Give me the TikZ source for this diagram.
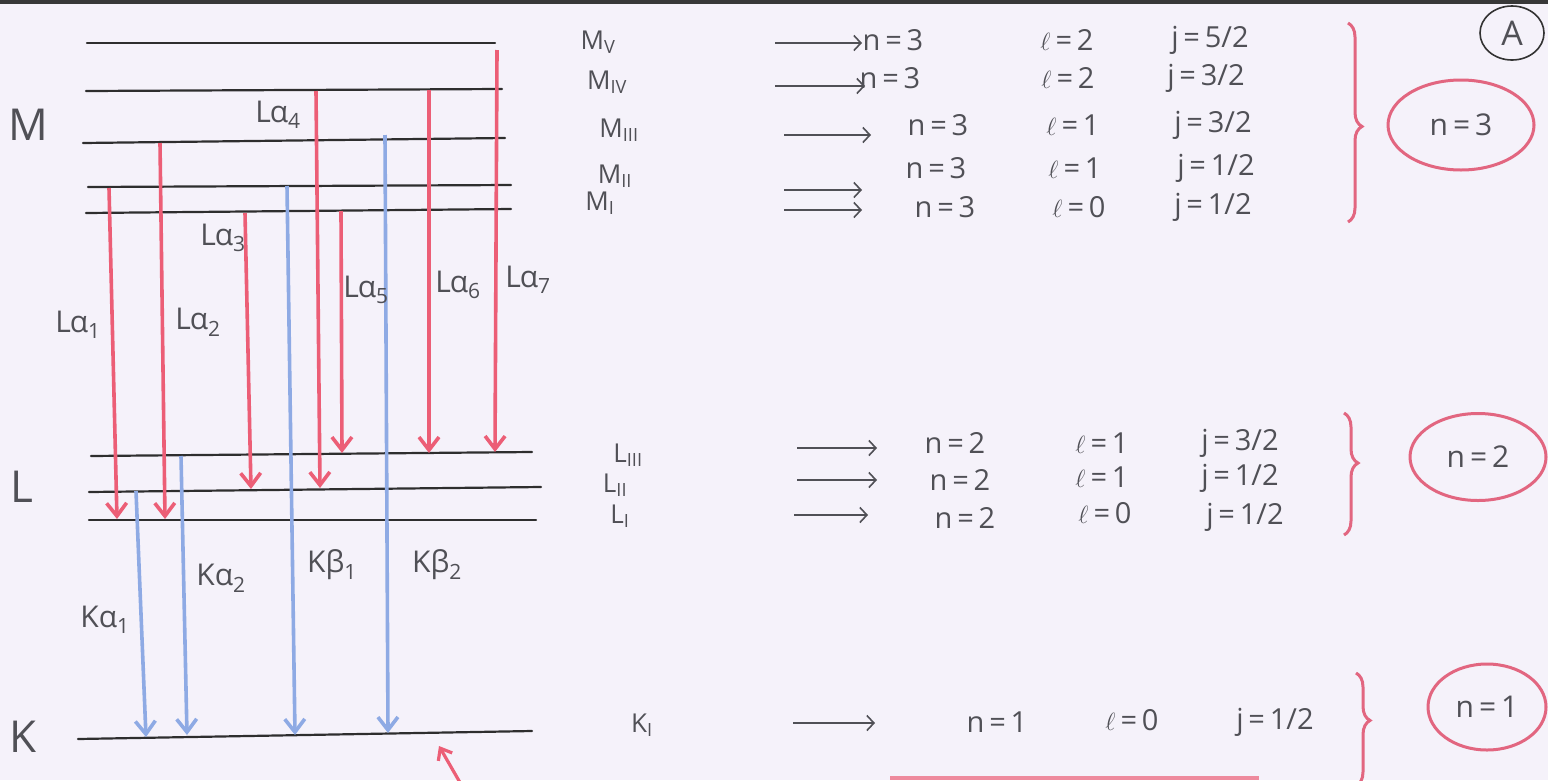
\documentclass[tikz,border=0pt]{standalone}
\usepackage{fontspec}
\setmainfont{Open Sans}
\usetikzlibrary{arrows.meta,shapes.geometric,decorations.pathreplacing}
\definecolor{paper}{RGB}{245,242,250}
\definecolor{pencil}{RGB}{80,80,86}
\definecolor{redp}{RGB}{236,94,118}
\definecolor{bluep}{RGB}{142,170,228}
\definecolor{circred}{RGB}{226,102,128}
\newcommand{\sbx}[1]{\textsubscript{#1}}
\begin{document}
\begin{tikzpicture}[x=1pt,y=-1pt,
  level/.style={draw=black!82, line width=2.2pt, line cap=round},
  lred/.style={draw=redp, line width=3.6pt, -{Straight Barb[length=13pt,width=20pt]}},
  kblue/.style={draw=bluep, line width=3.6pt, -{Straight Barb[length=13pt,width=20pt]}},
  rowarrow/.style={draw=pencil, line width=1.6pt, -{Straight Barb[length=7pt,width=15pt]}},
  shell/.style={text=pencil, font=\fontsize{44}{46}\selectfont, inner sep=0pt},
  trans/.style={text=pencil, font=\fontsize{30}{32}\selectfont, inner sep=0pt},
  sublab/.style={text=pencil, font=\fontsize{26}{28}\selectfont, inner sep=0pt},
  qn/.style={text=pencil, font=\fontsize{29}{31}\selectfont, inner sep=0pt},
  nbox/.style={ellipse, draw=circred, line width=3pt, inner sep=0pt, text=pencil, font=\fontsize{30}{32}\selectfont},
  rbrace/.style={draw=circred, line width=3pt, decorate}
]
% paper and frame
\fill[paper] (0,0) rectangle (1548,780);
\fill[black!78] (0,0) rectangle (1548,4);
\path[use as bounding box] (0,0) rectangle (1548,780);

% ---------- energy levels ----------
\coordinate (mvL) at (87,43);   \coordinate (mvR) at (495,43);
\coordinate (mivL) at (86,91);  \coordinate (mivR) at (502,89);
\coordinate (miiiL) at (83,143); \coordinate (miiiR) at (505,138);
\coordinate (miiL) at (88,187); \coordinate (miiR) at (511,185);
\coordinate (miL) at (86,213);  \coordinate (miR) at (511,209);
\coordinate (liiiL) at (91,456); \coordinate (liiiR) at (532,452);
\coordinate (liiL) at (89,492); \coordinate (liiR) at (541,487);
\coordinate (liL) at (89,520);  \coordinate (liR) at (536,520);
\coordinate (kL) at (78,739);   \coordinate (kR) at (532,731);
\foreach \a/\b in {mvL/mvR,mivL/mivR,miiiL/miiiR,miiL/miiR,miL/miR,liiiL/liiiR,liiL/liiR,liL/liR,kL/kR}
  \draw[level] (\a) -- (\b);

\node[shell] (M) at (28,125) {M};
\node[shell] (L) at (22,487) {L};
\node[shell] (K) at (23,737) {K};

% ---------- L alpha transitions (red) ----------
\coordinate (a1s) at (109,188); \coordinate (a1e) at (117,519);
\coordinate (a2s) at (160,143); \coordinate (a2e) at (165,519);
\coordinate (a3s) at (245,213); \coordinate (a3e) at (251,489);
\coordinate (a4s) at (316,91);  \coordinate (a4e) at (320,488);
\coordinate (a5s) at (341,211); \coordinate (a5e) at (342,453);
\coordinate (a6s) at (429,90);  \coordinate (a6e) at (429,453);
\coordinate (a7s) at (497,50);  \coordinate (a7e) at (495,452);
\foreach \i in {1,...,7} \draw[lred] (a\i s) -- (a\i e);

% ---------- K transitions (blue) ----------
\coordinate (k1s) at (136,491); \coordinate (k1e) at (146,737);
\coordinate (k2s) at (181,456); \coordinate (k2e) at (187,735);
\coordinate (k3s) at (287,186); \coordinate (k3e) at (295,735);
\coordinate (k4s) at (385,135); \coordinate (k4e) at (388,733);
\foreach \i in {1,...,4} \draw[kblue] (k\i s) -- (k\i e);

% transition labels
\node[trans] (la1) at (78,325) {L\kern-1pt α\sbx{1}};
\node[trans] (la2) at (198,322) {L\kern-1pt α\sbx{2}};
\node[trans] (la3) at (223,238) {L\kern-1pt α\sbx{3}};
\node[trans] (la4) at (278,115) {L\kern-1pt α\sbx{4}};
\node[trans] (la5) at (366,290) {L\kern-1pt α\sbx{5}};
\node[trans] (la6) at (458,285) {L\kern-1pt α\sbx{6}};
\node[trans] (la7) at (528,280) {L\kern-1pt α\sbx{7}};
\node[trans] (ka1) at (105,620) {Kα\sbx{1}};
\node[trans] (ka2) at (221,578) {Kα\sbx{2}};
\node[trans] (kb1) at (332,565) {Kβ\sbx{1}};
\node[trans] (kb2) at (437,565) {Kβ\sbx{2}};

% small red pointer under K line
\coordinate (ptail) at (462,786);
\coordinate (phead) at (439,746);
\draw[draw=redp, line width=3.2pt, -{Straight Barb[length=10pt,width=16pt]}] (ptail) -- (phead);

% ---------- right side table: M shell ----------
\node[sublab] (tMv)   at (598,42)  {M\sbx{V}};
\node[sublab] (tMiv)  at (607,82)  {M\sbx{IV}};
\node[sublab] (tMiii) at (619,130) {M\sbx{III}};
\node[sublab] (tMii)  at (615,176) {M\sbx{II}};
\node[sublab] (tMi)   at (600,203) {M\sbx{I}};

\coordinate (r1s) at (775,43);  \coordinate (r1e) at (862,43);
\coordinate (r2s) at (775,86);  \coordinate (r2e) at (865,86);
\coordinate (r3s) at (784,135); \coordinate (r3e) at (871,135);
\coordinate (r4s) at (784,190); \coordinate (r4e) at (862,190);
\coordinate (r5s) at (784,210); \coordinate (r5e) at (862,210);
\foreach \i in {1,...,5} \draw[rowarrow] (r\i s) -- (r\i e);

\node[qn] (n1) at (893,40)  {n\,=\,3};
\node[qn] (n2) at (890,78)  {n\,=\,3};
\node[qn] (n3) at (938,125) {n\,=\,3};
\node[qn] (n4) at (936,168) {n\,=\,3};
\node[qn] (n5) at (945,207) {n\,=\,3};
\node[qn] (l1) at (1067,40)  {$\ell$\,=\,2};
\node[qn] (l2) at (1068,78)  {$\ell$\,=\,2};
\node[qn] (l3) at (1073,125) {$\ell$\,=\,1};
\node[qn] (l4) at (1075,168) {$\ell$\,=\,1};
\node[qn] (l5) at (1079,207) {$\ell$\,=\,0};
\node[qn] (j1) at (1210,40)  {j\,=\,5/2};
\node[qn] (j2) at (1206,78)  {j\,=\,3/2};
\node[qn] (j3) at (1213,125) {j\,=\,3/2};
\node[qn] (j4) at (1216,168) {j\,=\,1/2};
\node[qn] (j5) at (1213,207) {j\,=\,1/2};

\draw[rbrace, decoration={brace, amplitude=14pt, aspect=0.52}] (1348,23) -- (1348,222);
\node[nbox, minimum width=146pt, minimum height=90pt] (c3) at (1461,125) {n\,=\,3};
\node[ellipse, draw=black!80, line width=1.6pt, minimum width=64pt, minimum height=54pt, inner sep=0pt, text=pencil, font=\fontsize{34}{36}\selectfont] (cA) at (1512,33) {A};

% ---------- L shell ----------
\node[sublab] (tLiii) at (628,455) {L\sbx{III}};
\node[sublab] (tLii)  at (615,485) {L\sbx{II}};
\node[sublab] (tLi)   at (620,516) {L\sbx{I}};
\coordinate (s1s) at (797,448); \coordinate (s1e) at (877,448);
\coordinate (s2s) at (797,480); \coordinate (s2e) at (877,480);
\coordinate (s3s) at (794,515); \coordinate (s3e) at (868,515);
\foreach \i in {1,2,3} \draw[rowarrow] (s\i s) -- (s\i e);
\node[qn] (ln1) at (955,443) {n\,=\,2};
\node[qn] (ln2) at (960,480) {n\,=\,2};
\node[qn] (ln3) at (965,518) {n\,=\,2};
\node[qn] (ll1) at (1102,443) {$\ell$\,=\,1};
\node[qn] (ll2) at (1102,477) {$\ell$\,=\,1};
\node[qn] (ll3) at (1105,513) {$\ell$\,=\,0};
\node[qn] (lj1) at (1240,443) {j\,=\,3/2};
\node[qn] (lj2) at (1240,478) {j\,=\,1/2};
\node[qn] (lj3) at (1245,517) {j\,=\,1/2};
\draw[rbrace, decoration={brace, amplitude=14pt, aspect=0.41}] (1344,413) -- (1344,535);
\node[nbox, minimum width=136pt, minimum height=87pt] (c2) at (1478,457) {n\,=\,2};

% ---------- K shell ----------
\node[sublab] (tKi) at (642,725) {K\sbx{I}};
\coordinate (t1s) at (793,723); \coordinate (t1e) at (875,723);
\draw[rowarrow] (t1s) -- (t1e);
\node[qn] (kn) at (997,722)  {n\,=\,1};
\node[qn] (kl) at (1132,720) {$\ell$\,=\,0};
\node[qn] (kj) at (1275,722) {j\,=\,1/2};
\draw[rbrace, decoration={brace, amplitude=14pt, aspect=0.42}] (1356,673) -- (1356,786);
\node[nbox, minimum width=118pt, minimum height=86pt] (c1) at (1487,707) {n\,=\,1};

% faint red stroke at the bottom edge
\coordinate (u1) at (890,778); \coordinate (u2) at (1259,778);
\draw[draw=redp, line width=4pt, opacity=0.7] (u1) -- (u2);
\end{tikzpicture}
\end{document}
